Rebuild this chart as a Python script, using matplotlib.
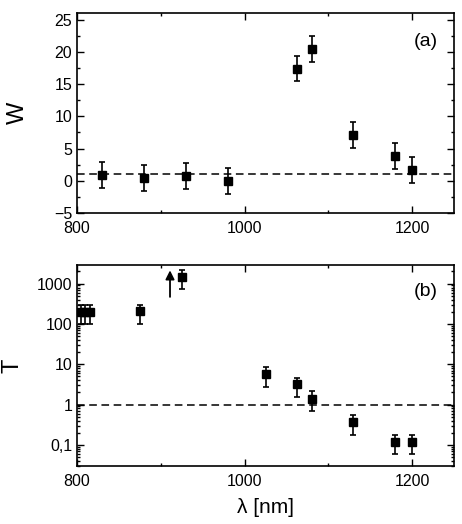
import numpy as np
import matplotlib.pyplot as plt
from matplotlib.ticker import (FixedLocator, FixedFormatter, MultipleLocator,
                               LogLocator, NullFormatter)

plt.rcParams['font.family'] = ['Liberation Sans', 'DejaVu Sans']

# panel (a): W vs wavelength
w_lam = [830, 880, 930, 980, 1063, 1080, 1130, 1180, 1200]
w_val = [0.9, 0.4, 0.7, 0.0, 17.4, 20.4, 7.1, 3.8, 1.7]
w_err = [2.0, 2.0, 2.0, 2.0, 2.0, 2.0, 2.0, 2.0, 2.0]

# panel (b): T vs wavelength
t_lam = [805, 810, 815, 875, 925, 1025, 1063, 1080, 1130, 1180, 1200]
t_val = [200, 200, 200, 205, 1500, 5.6, 3.2, 1.4, 0.37, 0.12, 0.12]
t_lo = [100, 100, 100, 100, 735, 2.8, 1.5, 0.71, 0.18, 0.06, 0.06]
t_hi = [295, 295, 295, 295, 2230, 8.5, 4.6, 2.14, 0.56, 0.18, 0.18]
arrow_lam = 911
arrow_from, arrow_to = 400, 2500

t_ticks = [0.1, 1, 10, 100, 1000]
t_labels = ['0,1', '1', '10', '100', '1000']

fig = plt.figure(figsize=(4.62, 5.24), dpi=100)
ax1 = fig.add_axes([0.1667, 0.5935, 0.816, 0.3815])
ax2 = fig.add_axes([0.1667, 0.1107, 0.816, 0.3836])

for ax in (ax1, ax2):
    for s in ax.spines.values():
        s.set_linewidth(1.2)
    ax.tick_params(which='both', direction='in', top=True, right=True,
                   labelsize=11.5, width=1.0)
    ax.tick_params(which='major', length=5)
    ax.tick_params(which='minor', length=2.5)
    ax.set_xlim(800, 1250)
    ax.xaxis.set_major_locator(MultipleLocator(200))
    ax.xaxis.set_minor_locator(MultipleLocator(100))
    ax.tick_params(axis='x', pad=6)

# (a)
ax1.errorbar(w_lam, w_val, yerr=w_err, fmt='s', color='k', ms=5.5,
             elinewidth=1.2, capsize=2.5, capthick=1.2)
ax1.axhline(1, color='k', ls=(0, (5, 3)), lw=1.1)
ax1.set_ylim(-5, 26)
ax1.yaxis.set_major_locator(MultipleLocator(5))
ax1.yaxis.set_minor_locator(MultipleLocator(2.5))
ax1.set_ylabel('W', fontsize=17, va='center')
ax1.yaxis.set_label_coords(-0.156, 0.5)
ax1.text(0.958, 0.9, '(a)', transform=ax1.transAxes, ha='right', va='top',
         fontsize=14)

# (b)
yerr = [np.array(t_val) - np.array(t_lo), np.array(t_hi) - np.array(t_val)]
ax2.errorbar(t_lam, t_val, yerr=yerr, fmt='s', color='k', ms=5.5,
             elinewidth=1.2, capsize=2.5, capthick=1.2)
ax2.annotate('', xy=(arrow_lam, arrow_to), xytext=(arrow_lam, arrow_from),
             arrowprops=dict(arrowstyle='-|>', color='k', lw=1.3,
                             mutation_scale=13))
ax2.axhline(1, color='k', ls=(0, (5, 3)), lw=1.1)
ax2.set_yscale('log')
ax2.set_ylim(0.03, 2900)
ax2.yaxis.set_major_locator(FixedLocator(t_ticks))
ax2.yaxis.set_major_formatter(FixedFormatter(t_labels))
ax2.yaxis.set_minor_locator(LogLocator(base=10, subs=np.arange(2, 10)))
ax2.yaxis.set_minor_formatter(NullFormatter())
ax2.set_ylabel('T', fontsize=17, va='center')
ax2.yaxis.set_label_coords(-0.17, 0.5)
ax2.set_xlabel('λ [nm]', fontsize=15, labelpad=6)
ax2.text(0.958, 0.91, '(b)', transform=ax2.transAxes, ha='right', va='top',
         fontsize=14)

fig.savefig('out.png', dpi=100)
